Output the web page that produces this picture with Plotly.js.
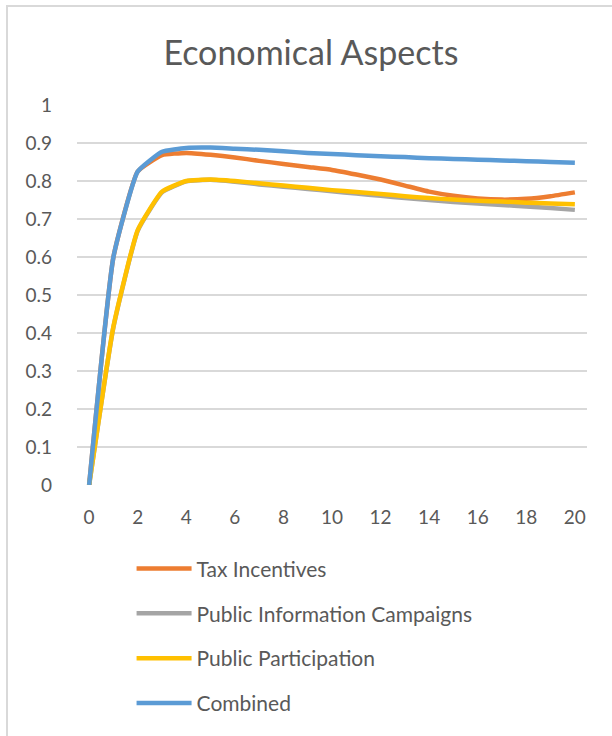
<!DOCTYPE html>
<html>
<head>
<meta charset="utf-8">
<script src="https://cdn.plot.ly/plotly-3.0.1.min.js"></script>
<style>
  html, body { margin: 0; padding: 0; background: #fff; }
  #wrap { position: relative; width: 612px; height: 736px; overflow: hidden; }
  #chart { width: 612px; height: 736px; }
  #frame { position: absolute; left: 6px; top: 5px; width: 640px; height: 760px;
           border-left: 2px solid #d9d9d9; border-top: 2px solid #d9d9d9; pointer-events: none; }
</style>
</head>
<body>
<div id="wrap">
  <div id="chart"></div>
  <div id="frame"></div>
</div>
<script>
const years = [0,1,2,3,4,5,6,7,8,9,10,11,12,13,14,15,16,17,18,19,20];
const taxIncentives = [0, 0.600, 0.825, 0.868, 0.874, 0.869, 0.862, 0.853, 0.845, 0.837, 0.829, 0.817, 0.804, 0.788, 0.772, 0.761, 0.754, 0.751, 0.753, 0.760, 0.770];
const publicInformation = [0, 0.415, 0.669, 0.770, 0.799, 0.803, 0.798, 0.791, 0.785, 0.779, 0.773, 0.767, 0.761, 0.755, 0.750, 0.745, 0.741, 0.737, 0.733, 0.729, 0.724];
const publicParticipation = [0, 0.417, 0.671, 0.772, 0.800, 0.804, 0.800, 0.794, 0.788, 0.782, 0.776, 0.771, 0.766, 0.760, 0.755, 0.751, 0.748, 0.746, 0.743, 0.741, 0.739];
const combined = [0, 0.600, 0.825, 0.877, 0.887, 0.888, 0.885, 0.882, 0.878, 0.874, 0.871, 0.868, 0.865, 0.863, 0.860, 0.858, 0.856, 0.854, 0.852, 0.850, 0.848];
const seriesNames = ["Tax Incentives", "Public Information Campaigns", "Public Participation", "Combined"];
const seriesColors = ["#ED7D31", "#A5A5A5", "#FFC000", "#5B9BD5"];
const xTicks = [0,2,4,6,8,10,12,14,16,18,20];
const yTicks = [0,0.1,0.2,0.3,0.4,0.5,0.6,0.7,0.8,0.9,1];
const yTickText = ["0","0.1","0.2","0.3","0.4","0.5","0.6","0.7","0.8","0.9","1"];

const allSeries = [taxIncentives, publicInformation, publicParticipation, combined];
const traces = allSeries.map((vals, i) => ({
  x: years, y: vals, name: seriesNames[i], type: 'scatter', mode: 'lines',
  line: { color: seriesColors[i], width: 4.5, shape: 'spline', smoothing: 0.4 },
  legendgroup: 'g' + i
}));

const FONT = 'Lato, "Open Sans", sans-serif';
const layout = {
  width: 612, height: 736,
  margin: { l: 77, r: 25, t: 105, b: 251 },
  paper_bgcolor: '#ffffff', plot_bgcolor: '#ffffff',
  font: { family: FONT, color: '#595959', size: 19 },
  title: { text: 'Economical Aspects', font: { family: FONT, size: 34, color: '#595959' },
           x: 0.508, xref: 'container', xanchor: 'center', y: 0.928, yref: 'container', yanchor: 'middle' },
  xaxis: { range: [-0.5, 20.5], tickvals: xTicks, ticktext: xTicks.map(String), showgrid: false,
           zeroline: false, showline: false, ticks: '', ticklabelstandoff: 19,
           tickfont: { family: FONT, size: 19, color: '#595959' }, fixedrange: true },
  yaxis: { range: [0, 1], tickvals: yTicks, ticktext: yTickText, showgrid: true, gridcolor: '#D9D9D9', gridwidth: 1.5,
           zeroline: false, showline: false, ticks: '', ticklabelstandoff: 24,
           tickfont: { family: FONT, size: 19, color: '#595959' }, fixedrange: true },
  showlegend: true,
  legend: { orientation: 'v', x: 0.107, xanchor: 'left', xref: 'paper',
            y: 0.2549, yref: 'container', yanchor: 'top',
            font: { family: FONT, size: 21, color: '#595959' }, tracegroupgap: 14.5,
            itemwidth: 55, bgcolor: 'rgba(0,0,0,0)', traceorder: 'grouped' }
};

Plotly.newPlot('chart', traces, layout, { displayModeBar: false, staticPlot: true });
</script>
</body>
</html>
